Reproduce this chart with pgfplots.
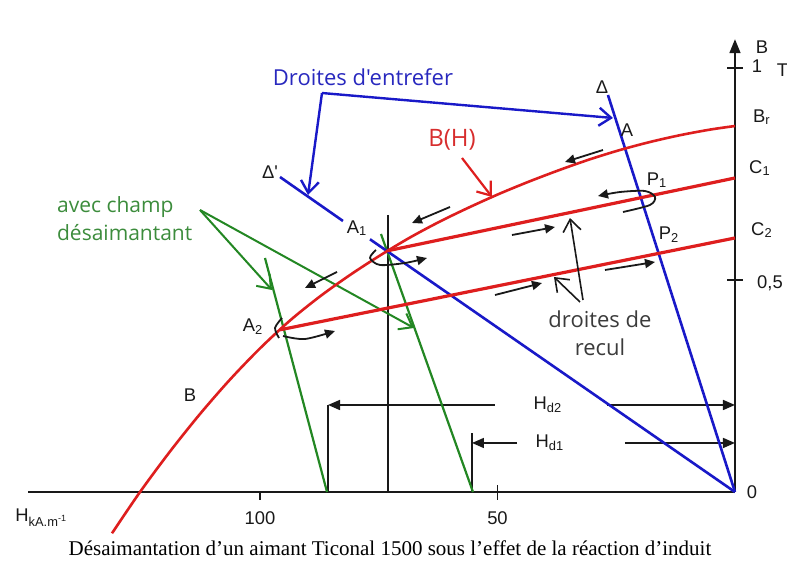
\documentclass[border=0pt]{standalone}
\usepackage{fontspec}
\setmainfont{Liberation Serif}
\newfontfamily\hel{Liberation Sans}
\newfontfamily\osans{Open Sans}
\usepackage{pgfplots}
\pgfplotsset{compat=1.18}
\usetikzlibrary{arrows.meta}
\definecolor{cred}{RGB}{222,30,30}
\definecolor{cblue}{RGB}{25,25,200}
\definecolor{cgreen}{RGB}{35,135,35}
\definecolor{tgreen}{RGB}{60,140,60}
\definecolor{tred}{RGB}{215,45,45}
\definecolor{tblue}{RGB}{40,40,190}
\definecolor{ink}{RGB}{25,25,25}
\tikzset{
  lbl/.style={font=\hel\fontsize{9.2}{10}\selectfont, text=ink, inner sep=0pt},
  barb/.style={-{Straight Barb[length=6pt,width=9pt]}},
  tri/.style={-{Triangle[length=5pt,width=4.5pt]}},
}
\begin{document}
\begin{tikzpicture}
\begin{axis}[width=393.5pt,height=283.5pt,scale only axis,axis lines=none,
  x dir=reverse,xmin=-10.95,xmax=154.74,ymin=-0.1769,ymax=1.1604,clip=false]
% axes
\addplot[ink,line width=0.8pt] coordinates {(148.84,0) (0,0)};
\addplot[ink,line width=0.8pt,-{Triangle[length=7pt,width=5.5pt]}] coordinates {(0,0) (0,1.068)};
\addplot[ink,line width=0.8pt] coordinates {(1.6,1) (-1.6,1)};
\addplot[ink,line width=0.8pt] coordinates {(1.6,0.5) (-1.6,0.5)};
\addplot[ink,line width=0.8pt] coordinates {(100,0) (100,-0.019)};
\addplot[ink,line width=0.8pt] coordinates {(50,0.016) (50,-0.019)};
% H_d brackets
\addplot[ink,line width=0.8pt] coordinates {(73.05,0.6533) (73.05,0)};
\addplot[ink,line width=0.8pt] coordinates {(85.68,0) (85.68,0.2052)};
\addplot[ink,line width=0.8pt,-{Triangle[length=6pt,width=5pt]}] coordinates {(50.53,0.2052) (85.68,0.2052)};
\addplot[ink,line width=0.8pt,-{Triangle[length=6pt,width=5pt]}] coordinates {(26.95,0.2052) (0,0.2052)};
\addplot[ink,line width=0.8pt] coordinates {(55.37,0) (55.37,0.1392)};
\addplot[ink,line width=0.8pt,-{Triangle[length=6pt,width=5pt]}] coordinates {(45.89,0.1156) (55.37,0.1156)};
\addplot[ink,line width=0.8pt,-{Triangle[length=6pt,width=5pt]}] coordinates {(23.16,0.1156) (0,0.1156)};
% green demagnetising lines
\addplot[cgreen,line width=1.1pt] coordinates {(98.95,0.5519) (85.89,0)};
\addplot[cgreen,line width=1.1pt] coordinates {(74.53,0.6085) (55.16,0)};
\addplot[cgreen,line width=1pt,barb] coordinates {(112.63,0.6651) (97.47,0.4764)};
\addplot[cgreen,line width=1pt,barb] coordinates {(112.63,0.6651) (67.58,0.3868)};
% blue air-gap lines
\addplot[cblue,line width=1.3pt] coordinates {(26.74,0.9363) (0,0)};
\addplot[cblue,line width=1.3pt] coordinates {(95.79,0.7429) (82.53,0.6392)};
\addplot[cblue,line width=1.3pt] coordinates {(76.84,0.5960) (0,0)};
\addplot[cblue,line width=1.2pt,barb] coordinates {(86.95,0.9410) (25.68,0.8821)};
\addplot[cblue,line width=1.2pt,barb] coordinates {(86.95,0.9410) (89.89,0.7005)};
% B(H) demagnetisation curve
\addplot[cred,line width=1.3pt,smooth] coordinates {
 (131.16,-0.0974) (125.26,0) (118.95,0.0955) (112.63,0.1840) (106.32,0.2651)
 (100.00,0.3387) (93.68,0.4045) (87.37,0.4613) (81.05,0.5118) (74.74,0.5578)
 (68.42,0.6002) (62.11,0.6380) (55.79,0.6722) (49.47,0.7040) (43.16,0.7330)
 (36.84,0.7599) (30.53,0.7847) (24.21,0.8066) (17.89,0.8255) (11.58,0.8415)
 (5.26,0.8547) (0,0.8632)};
% recoil lines
\addplot[cred,line width=1.6pt] coordinates {(73.05,0.5691) (0,0.7406)};
\addplot[cred,line width=1.6pt] coordinates {(95.79,0.3825) (0,0.5991)};
\addplot[cred,line width=1.1pt,barb] coordinates {(57.47,0.7877) (51.16,0.6958)};
% small black arrows
\addplot[ink,line width=0.9pt,tri] coordinates {(27.79,0.8066) (35.79,0.7783)};
\addplot[ink,line width=0.9pt,tri] coordinates {(60.0,0.6722) (68.0,0.6344)};
\addplot[ink,line width=0.9pt,tri] coordinates {(83.79,0.5189) (90.53,0.4811)};
\addplot[ink,line width=0.9pt,tri] coordinates {(46.95,0.6061) (37.89,0.6250)};
\addplot[ink,line width=0.9pt,tri] coordinates {(50.53,0.4646) (40.63,0.4929)};
\addplot[ink,line width=0.9pt,tri] coordinates {(27.37,0.5236) (16.84,0.5425)};
\addplot[ink,line width=0.9pt,tri,smooth] coordinates {(75.58,0.5708) (76.84,0.5519) (74.74,0.5354) (69.47,0.5401) (64.84,0.5519)};
\addplot[ink,line width=0.9pt,smooth] coordinates {(95.37,0.4104) (96.84,0.3868) (96.0,0.3632)};
\addplot[ink,line width=0.9pt,tri,smooth] coordinates {(95.16,0.3679) (90.53,0.3608) (84.21,0.3797)};
\addplot[ink,line width=0.9pt,tri,smooth] coordinates {(23.58,0.6604) (17.89,0.6769) (16.84,0.6958) (18.95,0.7099) (24.21,0.7075) (28.84,0.6981)};
\addplot[ink,line width=0.8pt,barb] coordinates {(32.0,0.4528) (34.74,0.6462)};
\addplot[ink,line width=0.8pt,barb] coordinates {(32.63,0.4481) (38.11,0.5071)};
% texts
\node[font=\osans\fontsize{11}{13}\selectfont,text=tblue] at (axis cs:78.32,0.9788) {Droites d'entrefer};
\node[font=\osans\fontsize{12}{14}\selectfont,text=tred] at (axis cs:59.58,0.8302) {B(H)};
\node[font=\osans\fontsize{10.5}{14}\selectfont,text=tgreen,align=left,anchor=west] at (axis cs:144.2,0.6439) {avec champ\\désaimantant};
\node[font=\osans\fontsize{11}{14}\selectfont,text=ink!85,align=center] at (axis cs:28.42,0.375) {droites de\\recul};
\node[lbl] at (axis cs:114.74,0.2288) {B};
\node[lbl] at (axis cs:28.0,0.9552) {Δ};
\node[lbl] at (axis cs:22.74,0.8538) {A};
\node[lbl] at (axis cs:97.89,0.7547) {Δ'};
\node[lbl] at (axis cs:79.58,0.6226) {A\textsubscript{1}};
\node[lbl] at (axis cs:101.47,0.3892) {A\textsubscript{2}};
\node[lbl] at (axis cs:16.42,0.7358) {P\textsubscript{1}};
\node[lbl] at (axis cs:13.89,0.6061) {P\textsubscript{2}};
\node[lbl] at (axis cs:-5.68,0.8844) {B\textsubscript{r}};
\node[lbl] at (axis cs:-5.26,0.7642) {C\textsubscript{1}};
\node[lbl] at (axis cs:-5.68,0.6179) {C\textsubscript{2}};
\node[lbl] at (axis cs:-5.68,1.0495) {B};
\node[lbl] at (axis cs:-4.63,1.0047) {1};
\node[lbl,anchor=west] at (axis cs:-8.74,0.9953) {T};
\node[lbl] at (axis cs:-7.37,0.4929) {0,5};
\node[lbl] at (axis cs:-3.58,0) {0};
\node[lbl,anchor=west] at (axis cs:151.58,-0.0613) {H\textsubscript{kA.m\textsuperscript{-1}}};
\node[lbl] at (axis cs:100,-0.0613) {100};
\node[lbl] at (axis cs:50,-0.0613) {50};
\node[lbl] at (axis cs:39.37,0.2052) {H\textsubscript{d2}};
\node[lbl] at (axis cs:38.95,0.1156) {H\textsubscript{d1}};
\node[font=\fontsize{10.5}{12}\selectfont] at (axis cs:72.63,-0.1321) {Désaimantation d’un aimant Ticonal 1500 sous l’effet de la réaction d’induit};
\end{axis}
\pgfresetboundingbox
\path (current axis.south west) rectangle (current axis.north east);
\end{tikzpicture}
\end{document}
